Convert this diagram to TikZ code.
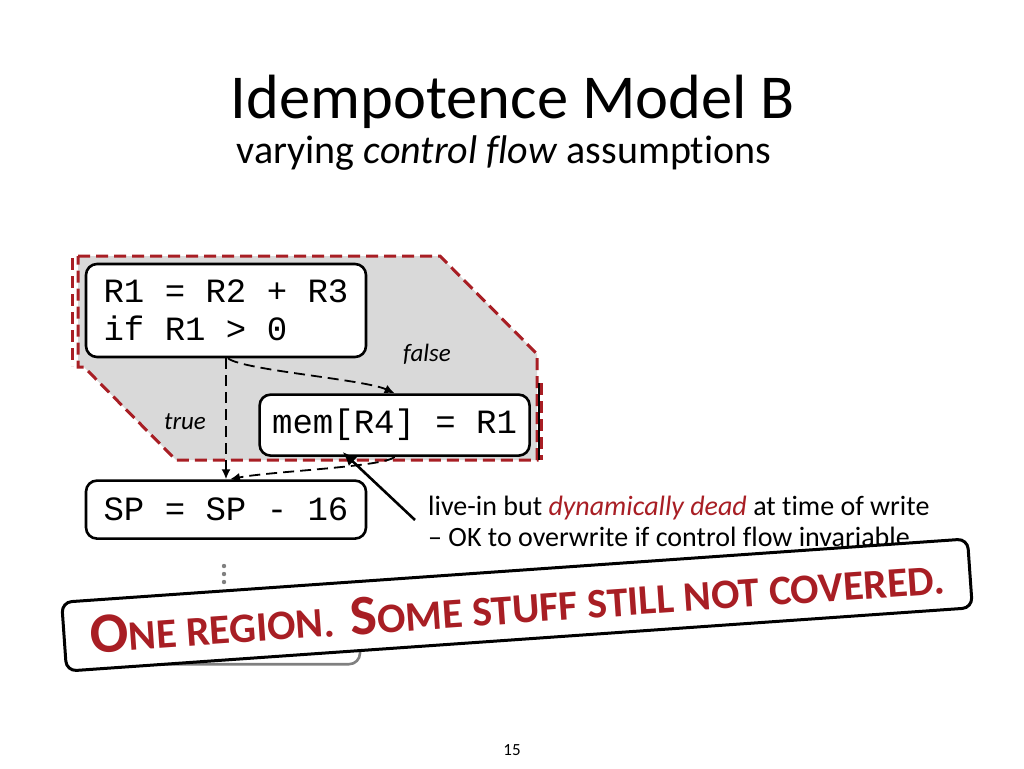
\documentclass[tikz,border=0pt]{standalone}
\usepackage{fontspec}
\setmainfont{Carlito}[Ligatures=NoCommon]
\newfontfamily\codefont{Liberation Mono}
\usetikzlibrary{arrows.meta,positioning}
\definecolor{regionred}{RGB}{168,30,36}
\definecolor{regiongray}{RGB}{217,217,217}
\newcommand{\scbig}[1]{{\fontsize{57}{57}\selectfont #1}}
\newcommand{\scsmall}[1]{{\fontsize{42}{42}\selectfont #1}}
\tikzstyle{codeblock}=[
	rectangle,
	rounded corners=11pt,
	line width=2.6pt,
	draw=black,
	fill=white,
	align=left,
	inner sep=0pt,
	font=\codefont\fontsize{34}{38}\selectfont
]
\tikzstyle{region}=[
	draw=regionred,
	fill=regiongray,
	line width=3pt,
	dash pattern=on 12pt off 6pt
]
\tikzstyle{regionedge}=[
	draw=regionred,
	line width=3pt,
	dash pattern=on 12pt off 6pt
]
\tikzstyle{flow}=[
	-{Latex[length=10pt,width=9pt]},
	line width=1.8pt,
	dash pattern=on 11pt off 6pt
]
\tikzstyle{pointer}=[
	-{Latex[length=14pt,width=12pt]},
	line width=2.6pt
]
\tikzstyle{banner}=[
	rectangle,
	rounded corners=10pt,
	line width=3pt,
	draw=black,
	fill=white,
	minimum width=908pt,
	minimum height=69pt,
	text=regionred,
	font=\bfseries
]

\begin{document}
\begin{tikzpicture}[x=1pt,y=-1pt]
\useasboundingbox (0,0) rectangle (1024,768);
\node [anchor=base, font=\fontsize{62.5}{62.5}\selectfont] (title) at (513,118) {Idempotence Model B};
\node [anchor=base, font=\fontsize{40}{40}\selectfont] (subtitle) at (504,163) {varying \textit{control flow} assumptions};
% the region
\draw [region] (78,256) -- (440,256) -- (537,354) -- (537,460) -- (176,460) -- (84,367) -- (78,367) -- cycle;
\draw [regionedge] (72,258) -- (72,366);
\draw [regionedge] (541,383) -- (541,460);
\draw [line width=1.5pt] (539,383) -- (539,460);
% code
\node [codeblock, minimum width=280pt, minimum height=93pt] (entry) at (226,310.5) {R1 = R2 + R3\\if R1 > 0};
\node [codeblock, minimum width=270pt, minimum height=61pt] (store)[below right=35pt and -109pt of entry] {mem[R4] = R1};
\node [codeblock, minimum width=280pt, minimum height=58pt] (sp)[below=121pt of entry] {SP = SP - 16};
\node [codeblock, draw=gray, minimum width=274pt, minimum height=58pt] (next)[below=65pt of sp.south west, anchor=north west] {};
\foreach \y in {566,574,582}
	\fill [gray] (224,\y) circle (2.2pt);
% edges
\draw [flow] (entry.south) -- (entry.south |- sp.north);
\draw [flow] ([xshift=2pt]entry.south) .. controls +(15,12) and +(-30,-14) .. (store.north);
\draw [flow] (store.south) .. controls +(-10,10) and +(40,-8) .. ([xshift=4pt]sp.north);
\node [font=\itshape\fontsize{25}{25}\selectfont] (false) at (427,354) {false};
\node [font=\itshape\fontsize{25}{25}\selectfont] (true) at (185,422) {true};
% note
\node [anchor=north west, align=left, inner sep=0pt, font=\fontsize{28}{31}\selectfont] (note) at (428,496) {live-in but \textit{\color{regionred}dynamically dead} at time of write\\-- OK to overwrite if control flow invariable};
\coordinate (tail) at (415,520);
\draw [pointer] (tail) -- ([xshift=-52pt,yshift=5pt]store.south);
\node [font=\fontsize{17}{17}\selectfont] (page) at (512,750) {15};
% verdict
\node [banner, rotate=4] (verdict) at (517,605) {\scbig{O}\scsmall{NE REGION.}\hspace{16pt}\scbig{S}\scsmall{OME STUFF STILL NOT COVERED.}};
\end{tikzpicture}
\end{document}
